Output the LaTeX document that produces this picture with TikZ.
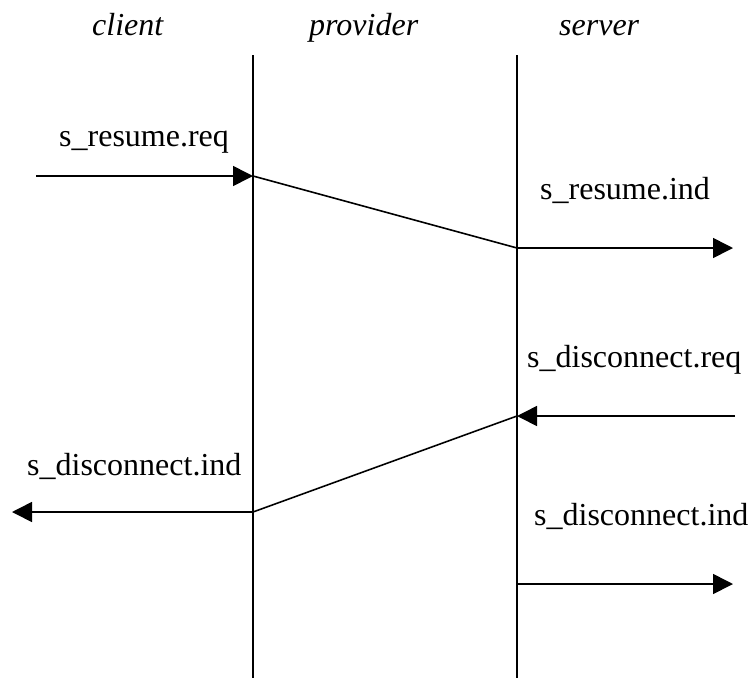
\documentclass[tikz,border=0pt]{standalone}
\usepackage{fontspec}
\setmainfont{Liberation Serif}
\usetikzlibrary{arrows.meta}

\tikzset{
  lifeline/.style={line width=1.6pt},
  msg/.style={line width=1.6pt, -{Triangle[length=20pt,width=20pt]}},
  link/.style={line width=1.6pt},
  role/.style={inner sep=0pt, anchor=base west, font=\fontsize{32pt}{38pt}\selectfont\itshape},
  prim/.style={inner sep=0pt, anchor=base west, font=\fontsize{32pt}{38pt}\selectfont}
}

\begin{document}
\begin{tikzpicture}[x=1pt,y=-1pt]
  \useasboundingbox (0,0) rectangle (752,678);

  % column headings
  \node[role] (hclient)   at (92,35)  {client};
  \node[role] (hprovider) at (309,35) {provider};
  \node[role] (hserver)   at (559,35) {server};

  % lifelines of the provider boundaries
  \coordinate (ltop) at (253,55);
  \coordinate (lbot) at (253,678);
  \coordinate (rtop) at (517,55);
  \coordinate (rbot) at (517,678);
  \draw[lifeline] (ltop) -- (lbot);
  \draw[lifeline] (rtop) -- (rbot);

  % event points
  \coordinate (reqin)   at (36,176);
  \coordinate (lres)    at (253,176);
  \coordinate (rres)    at (517,248);
  \coordinate (indout)  at (733,248);
  \coordinate (dreqin)  at (735,416);
  \coordinate (rdis)    at (517,416);
  \coordinate (ldis)    at (253,512);
  \coordinate (dindl)   at (12,512);
  \coordinate (rdis2)   at (517,584);
  \coordinate (dindr)   at (733,584);

  % s_resume
  \draw[msg] (reqin) -- (lres);
  \draw[link] (lres) -- (rres);
  \draw[msg] (rres) -- (indout);

  % s_disconnect
  \draw[msg] (dreqin) -- (rdis);
  \draw[link] (rdis) -- (ldis);
  \draw[msg] (ldis) -- (dindl);
  \draw[msg] (rdis2) -- (dindr);

  % primitive labels
  \node[prim] (l1) at (59,146)  {s\_resume.req};
  \node[prim] (l2) at (540,199) {s\_resume.ind};
  \node[prim] (l3) at (527,367) {s\_disconnect.req};
  \node[prim] (l4) at (27,475)  {s\_disconnect.ind};
  \node[prim] (l5) at (534,525) {s\_disconnect.ind};
\end{tikzpicture}
\end{document}
